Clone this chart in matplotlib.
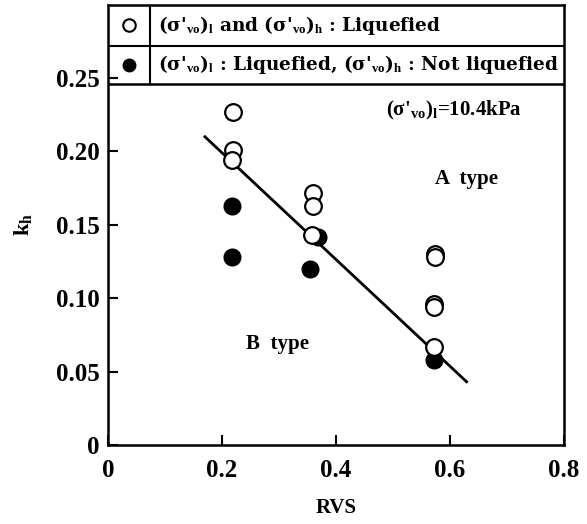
import numpy as np
import matplotlib
matplotlib.use('Agg')
import matplotlib.pyplot as plt

plt.rcParams['font.family'] = ['Liberation Serif', 'DejaVu Serif']
plt.rcParams['font.weight'] = 'bold'
plt.rcParams['axes.labelweight'] = 'bold'
plt.rcParams['mathtext.fontset'] = 'custom'
plt.rcParams['mathtext.rm'] = 'Liberation Serif:bold'
plt.rcParams['mathtext.it'] = 'Liberation Serif:italic:bold'
plt.rcParams['mathtext.bf'] = 'Liberation Serif:bold'

# open circles: both liquefied
rvs_open = [0.219, 0.219, 0.218, 0.360, 0.360, 0.357, 0.573, 0.573, 0.572, 0.572, 0.571]
kh_open = [0.227, 0.201, 0.194, 0.172, 0.163, 0.143, 0.130, 0.128, 0.096, 0.094, 0.067]

# filled circles: low liquefied, high not liquefied
rvs_fill = [0.217, 0.217, 0.369, 0.354, 0.571]
kh_fill = [0.163, 0.128, 0.142, 0.120, 0.058]

# boundary line
line_x = [0.170, 0.629]
line_y = [0.210, 0.043]

xticks = [0, 0.2, 0.4, 0.6, 0.8]
xlabels = ['0', '0.2', '0.4', '0.6', '0.8']
yticks = [0, 0.05, 0.10, 0.15, 0.20, 0.25]
ylabels = ['0', '0.05', '0.10', '0.15', '0.20', '0.25']

sig = r"(σ'$_{\rm vo}$)"

fig = plt.figure(figsize=(5.87, 5.24), dpi=100)
ax = fig.add_axes([0.184, 0.151, 0.777, 0.840])

ax.plot(line_x, line_y, color='black', lw=2.0, zorder=2)
ax.plot(rvs_fill, kh_fill, 'o', ms=12, color='black', zorder=3)
ax.plot(rvs_open, kh_open, 'o', ms=12, mfc='white', mec='black', mew=1.6, zorder=4)

ax.set_xlim(0, 0.8)
ax.set_ylim(0, 0.30)
ax.set_xticks(xticks)
ax.set_xticklabels(xlabels)
ax.set_yticks(yticks)
ax.set_yticklabels(ylabels)
ax.tick_params(direction='in', length=7, width=1.5, labelsize=18, pad=6)
ax.tick_params(axis='x', pad=10)
for s in ax.spines.values():
    s.set_linewidth(1.8)

ax.set_xlabel('RVS', fontsize=15, labelpad=12)
ax.set_ylabel(r'k$_{\rm h}$', fontsize=16, labelpad=16)

# legend table inside the top of the axes
ax.axhline(0.272, color='black', lw=1.5)
ax.axhline(0.246, color='black', lw=1.8)
ax.plot([0.0737, 0.0737], [0.246, 0.30], color='black', lw=1.5)
ax.plot([0.037], [0.286], 'o', ms=9, mfc='white', mec='black', mew=1.5, clip_on=False)
ax.plot([0.037], [0.259], 'o', ms=9, color='black', clip_on=False)
leg_font = ['DejaVu Serif']
ax.text(0.088, 0.286, sig + r'$_{\rm l}$ and ' + sig + r'$_{\rm h}$ : Liquefied',
        fontsize=13.3, va='center', ha='left', family=leg_font)
ax.text(0.088, 0.259, sig + r'$_{\rm l}$ : Liquefied, ' + sig + r'$_{\rm h}$ : Not liquefied',
        fontsize=13.3, va='center', ha='left', family=leg_font)

ax.text(0.607, 0.228, sig + r'$_{\rm l}$=10.4kPa', fontsize=15, ha='center', va='center')
ax.text(0.628, 0.181, 'A  type', fontsize=15, ha='center', va='center')
ax.text(0.297, 0.069, 'B  type', fontsize=15, ha='center', va='center')

fig.savefig('out.png', dpi=100)
